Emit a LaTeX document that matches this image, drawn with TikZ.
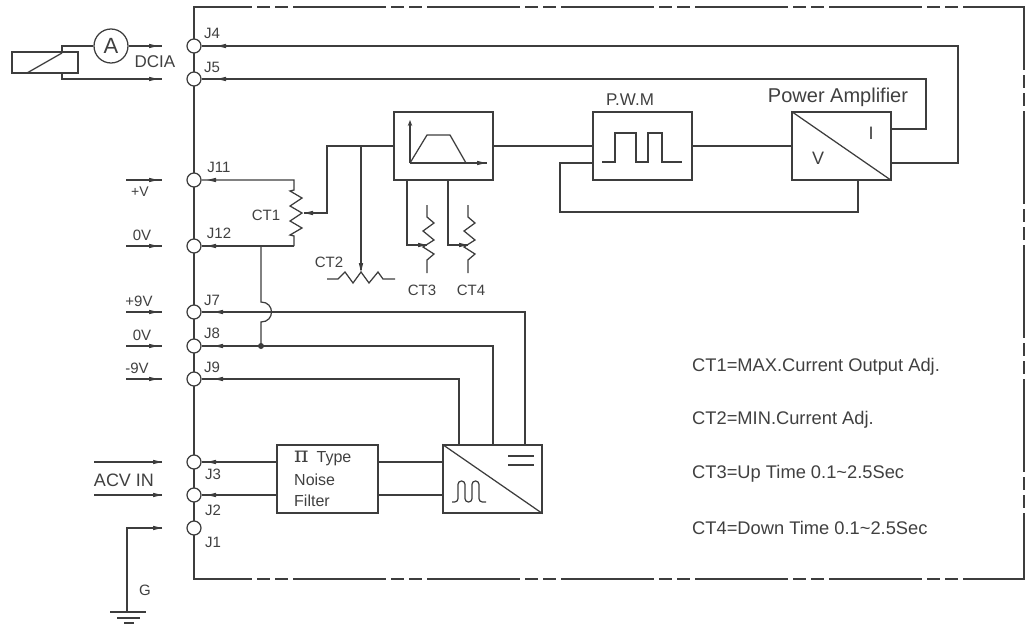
\documentclass[tikz,border=0pt]{standalone}
\usepackage{fontspec}
\usetikzlibrary{arrows.meta}
\setmainfont{Liberation Sans}
\newfontfamily\pifont{DejaVu Serif}
\definecolor{wc}{gray}{0.24}
\definecolor{tc}{gray}{0.25}
\tikzset{
  wire/.style={draw=wc,line width=1.25pt,line join=miter},
  frameline/.style={draw=wc,line width=1.5pt,dash pattern=on 93pt off 5pt on 13pt off 5pt on 13pt off 5pt},
  term/.style={circle,draw=wc,line width=1.25pt,fill=white,minimum size=14pt,inner sep=0pt},
  blockbox/.style={rectangle,draw=wc,line width=1.25pt,minimum width=99pt,minimum height=68pt,inner sep=0pt},
  lab/.style={text=tc,inner sep=0pt,font=\fontsize{#1}{#1}\selectfont},
  tipr/.pic={\fill[wc] (-9,-2.2) -- (0,0) -- (-9,2.2) -- cycle;},
  tipl/.pic={\fill[wc] (9,-2.2) -- (0,0) -- (9,2.2) -- cycle;},
  tipd/.pic={\fill[wc] (-2.2,-9) -- (0,0) -- (2.2,-9) -- cycle;},
}
\begin{document}
\begin{tikzpicture}[x=1pt,y=-1pt]
\useasboundingbox (0,0) rectangle (1030,624);
% enclosure
\draw[frameline,dash phase=35pt] (194,7) -- (1024.7,7);
\draw[frameline,dash phase=35pt] (194,579) -- (1024.7,579);
\draw[frameline,dash phase=30pt] (1024,7) -- (1024,579.7);
\draw[wire,line width=1.5pt,line cap=rect] (194,7) -- (194,579);
% terminals
\foreach \n/\y in {J4/46,J5/79,J11/180,J12/246,J7/312,J8/346,J9/379,J3/462,J2/495,J1/528}
  \node[term] (\n) at (194,\y) {};
% terminal labels
\foreach \n/\x/\y in {J4/212/33,J5/212/67,J11/219/167,J12/219/233,J7/212/300,J8/212/333,J9/212/367,J3/213/474,J2/213/510,J1/213/542}
  \node[lab=15] (l\n) at (\x,\y) {\n};
% blocks
\node[blockbox] (ramp) at (443.5,146) {};
\node[blockbox] (pwm) at (642.5,146) {};
\node[blockbox] (amp) at (841.5,146) {};
\node[blockbox] (conv) at (492.5,479) {};
\node[blockbox,minimum width=101pt] (filt) at (327.5,479) {};
\draw[wire] (amp.north west) -- (amp.south east);
\draw[wire] (conv.north west) -- (conv.south east);
\node[lab=20] (lamp) at (838,97) {Power Amplifier};
\node[lab=17] (lpwm) at (630,100) {P.W.M};
\node[lab=18] (lv) at (818,158) {V};
\node[lab=18] (li) at (871,133) {I};
% filter text
\node[lab=16,anchor=west] (f1) at (294,458) {{\pifont\fontsize{22}{22}\selectfont π}\hspace{8pt}Type};
\node[lab=16,anchor=west] (f2) at (294,480) {Noise};
\node[lab=16,anchor=west] (f3) at (294,501) {Filter};
% block symbols
\draw[wire,-{Stealth[length=6pt,width=4.5pt]}] (410,163) -- (410,120);
\draw[wire] (410,163) -- (487,163);
\pic at (486,163) {tipr};
\draw[wire] (410,163) -- (427,135) -- (450,135) -- (466,163);
\draw[wire] (602,162) -- (615,162) -- (615,133) -- (636,133) -- (636,162) -- (648,162) -- (648,133) -- (662,133) -- (662,162) -- (682,162);
\draw[wire] (508,456) -- (534,456) (508,465) -- (534,465);
\draw[wire,rounded corners=3.4pt] (452,502) -- (458,502) -- (458,481) -- (465,481) -- (465,502) -- (472,502) -- (472,481) -- (479,481) -- (479,502) -- (486,502);
% relay and ammeter
\node[rectangle,draw=wc,line width=1.25pt,minimum width=66pt,minimum height=21pt,inner sep=0pt] (relay) at (45,62.5) {};
\node[circle,draw=wc,line width=1.25pt,minimum size=34pt,inner sep=0pt,text=tc,font=\fontsize{22}{22}\selectfont] (amm) at (111,46) {A};
\coordinate (relA) at (27,73);
\coordinate (relB) at (62,53);
\draw[wire] (relA) -- (relB);
\coordinate (dcA) at (162,46);
\coordinate (dcB) at (162,79);
\draw[wire] (62,53) -- (62,46) -- (amm);
\draw[wire] (amm) -- (dcA);
\draw[wire] (62,73) -- (62,79) -- (dcB);
\pic at (158,46) {tipr};
\pic at (158,79) {tipr};
\node[lab=17] (ldc) at (155,62) {DCIA};
% external feeds
\foreach \y in {180,246,312,346,379} {
  \draw[wire] (126,\y) -- (162,\y);
  \pic at (158,\y) {tipr};
}
\node[lab=14] (lpv) at (140,192) {+V};
\node[lab=15] (l0a) at (142,235) {0V};
\node[lab=15] (lp9) at (139,301) {+9V};
\node[lab=15] (l0b) at (142,335) {0V};
\node[lab=15] (lm9) at (137,368) {-9V};
\draw[wire] (94,462) -- (162,462);
\draw[wire] (94,495) -- (162,495);
\pic at (162,462) {tipr};
\pic at (162,495) {tipr};
\node[lab=18] (lac) at (124,480) {ACV IN};
% ground
\coordinate (gA) at (162,528);
\coordinate (gB) at (127,612);
\draw[wire] (gA) -- (127,528) -- (gB);
\pic at (162,528) {tipr};
\draw[wire] (110,612) -- (146,612) (117,618) -- (140,618) (124,623) -- (134,623);
\node[lab=15] (lg) at (145,590) {G};
% J4, J5 current loop
\coordinate (ampA) at (891,129);
\coordinate (ampB) at (891,163);
\draw[wire] (J4) -- (958,46) -- (958,163) -- (ampB);
\draw[wire] (J5) -- (926,79) -- (926,129) -- (ampA);
\pic at (217,46) {tipl};
\pic at (217,79) {tipl};
% signal chain
\draw[wire] (ramp.east) -- (pwm.west);
\draw[wire] (pwm.east) -- (amp.west);
\coordinate (ampF) at (858,180);
\coordinate (pwmF) at (593,163);
\draw[wire] (ampF) -- (858,212) -- (560,212) -- (560,163) -- (pwmF);
% CT1
\draw[wire] (J11) -- (294,180) -- (294,190) -- (290,191) -- (302,198) -- (290,206) -- (302,213) -- (290,221) -- (302,228) -- (290,235) -- (294,236) -- (294,246);
\draw[wire] (J12) -- (294,246);
\pic at (207,180) {tipl};
\pic at (207,246) {tipl};
\node[lab=15] (lct1) at (266,215) {CT1};
\draw[wire] (ramp.west) -- (327,146) -- (327,213) -- (304,213);
\pic at (304,213) {tipl};
% CT2
\draw[wire] (361,146) -- (361,270);
\pic at (361,272) {tipd};
\draw[wire] (327,279) -- (338,279) -- (345,272) -- (353,283) -- (361,272) -- (369,283) -- (378,272) -- (383,279) -- (395,279);
\node[lab=15] (lct2) at (329,262) {CT2};
% CT3, CT4
\foreach \wx/\rx/\nm/\lx in {407/427/CT3/422,448/468/CT4/471} {
  \coordinate (w\nm) at (\wx,180);
  \draw[wire] (w\nm) -- (\wx,245) -- (\rx,245);
  \pic at (\rx,245) {tipr};
  \draw[wire] (\rx,205) -- (\rx,217) -- ++(7,6) -- ++(-11,8) -- ++(11,9) -- ++(-11,7) -- ++(11,7) -- ++(-7,6) -- ++(0,13);
  \node[lab=15] (l\nm) at (\lx,290) {\nm};
}
% supply rails
\coordinate (convA) at (459,445);
\coordinate (convB) at (493,445);
\coordinate (convC) at (525,445);
\draw[wire] (J7) -- (525,312) -- (convC);
\draw[wire] (J8) -- (493,346) -- (convB);
\draw[wire] (J9) -- (459,379) -- (convA);
\pic at (214,312) {tipl};
\pic at (214,346) {tipl};
\pic at (214,379) {tipl};
% CT1 return, hopping over the +9V rail
\coordinate (hopT) at (261,302);
\coordinate (hopB) at (261,322);
\coordinate (jct) at (261,346);
\draw[wire] (261,246) -- (hopT) .. controls (275,302) and (275,322) .. (hopB) -- (jct);
\fill[wc] (jct) circle (3pt);
% input filter wiring
\coordinate (fiA) at (277,462);
\coordinate (fiB) at (277,495);
\coordinate (foA) at (378,462);
\coordinate (foB) at (378,495);
\coordinate (cvA) at (443,462);
\coordinate (cvB) at (443,495);
\draw[wire] (J3) -- (fiA);
\draw[wire] (J2) -- (fiB);
\draw[wire] (foA) -- (cvA);
\draw[wire] (foB) -- (cvB);
\pic at (207,462) {tipl};
\pic at (207,495) {tipl};
% notes
\node[lab=18.3,anchor=west] (n1) at (692,367) {CT1=MAX.Current Output Adj.};
\node[lab=18.3,anchor=west] (n2) at (692,420) {CT2=MIN.Current Adj.};
\node[lab=18.3,anchor=west] (n3) at (692,474) {CT3=Up Time 0.1\textasciitilde2.5Sec};
\node[lab=18.3,anchor=west] (n4) at (692,528) {CT4=Down Time 0.1\textasciitilde2.5Sec};
\end{tikzpicture}
\end{document}
